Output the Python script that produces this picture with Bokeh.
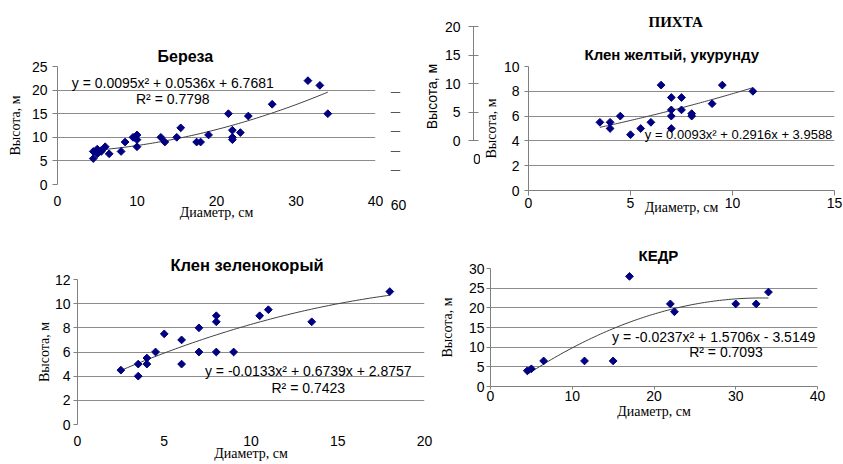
import numpy as np
from bokeh.plotting import figure
from bokeh.models import Range1d, FixedTicker, Label, Title
from bokeh.layouts import row, column
from bokeh.embed import file_html
from bokeh.resources import INLINE

SANS = "Liberation Sans"
SERIF = "Liberation Serif"
MARK = "#000080"
GRID = "#8c8c8c"
AXIS = "#808080"
TREND = "#404040"

# ---------------- data ----------------
birch_d = [4.5, 4.5, 5, 5, 5.5, 5.5, 6, 6.5, 8, 8.5, 9.5, 9.7, 10, 10, 10, 13, 13.5, 15, 15.5,
           17.5, 18, 19, 21.5, 22, 22, 22, 23, 24, 27, 31.5, 33, 34]
birch_h = [5.5, 7, 7.5, 6.5, 7, 7.2, 8, 6.5, 7, 9, 10, 10, 10.5, 9.5, 8, 10, 9, 10, 12,
           9, 9, 10.5, 15, 11.5, 10, 9.5, 11, 14.5, 17, 22, 21, 15]
birch_coef = [0.0095, 0.0536, 6.7681]

myel_d = [3.5, 4, 4, 4.5, 5, 5.5, 6, 6.5, 7, 7, 7, 7, 7.5, 7.5, 8, 8, 9, 9.5, 11]
myel_h = [5.5, 5.5, 5, 6, 4.5, 5, 5.5, 8.5, 7.5, 6.5, 6, 5, 7.5, 6.5, 6.2, 6, 7, 8.5, 8]
myel_coef = [0.0093, 0.2916, 3.9588]

mgrn_d = [2.5, 3.5, 3.5, 4, 4, 4.5, 5, 6, 6, 7, 7, 8, 8, 8, 9, 10.5, 11, 13.5, 18]
mgrn_h = [4.5, 5, 4, 5.5, 5, 6, 7.5, 7, 5, 8, 6, 9, 8.5, 6, 6, 9, 9.5, 8.5, 11]
mgrn_coef = [-0.0133, 0.6739, 2.8757]

cedar_d = [4.5, 5, 6.5, 11.5, 15, 17, 22, 22.5, 30, 32.5, 34]
cedar_h = [4, 4.5, 6.5, 6.5, 6.5, 28, 21, 19, 21, 21, 24]
cedar_coef = [-0.0237, 1.5706, -3.5149]

birch_xticks = [0, 10, 20, 30, 40]
birch_yticks = [0, 5, 10, 15, 20, 25]
myel_xticks = [0, 5, 10, 15]
myel_yticks = [0, 2, 4, 6, 8, 10]
mgrn_xticks = [0, 5, 10, 15, 20]
mgrn_yticks = [0, 2, 4, 6, 8, 10, 12]
cedar_xticks = [0, 10, 20, 30, 40]
cedar_yticks = [0, 5, 10, 15, 20, 25, 30]
fir_yticks = [0, 5, 10, 15, 20]
fir_xtick_label = "0"
stray_yticks = [5, 10, 15, 20, 25]
stray_xticks = [60]

XLAB = "Диаметр, см"
YLAB = "Высота, м"


def base(w, h, l, r, t, b, xr, yr):
    p = figure(width=w, height=h, x_range=Range1d(*xr), y_range=Range1d(*yr),
               min_border_left=l, min_border_right=r, min_border_top=t, min_border_bottom=b,
               output_backend="svg", toolbar_location=None, frame_align=False)
    p.outline_line_color = None
    p.background_fill_color = "white"
    p.border_fill_color = "white"
    p.xgrid.visible = False
    p.ygrid.grid_line_color = GRID
    p.ygrid.grid_line_width = 1
    for ax in (p.xaxis[0], p.yaxis[0]):
        ax.major_label_text_font = SANS
        ax.major_label_text_font_size = "14px"
        ax.major_label_text_color = "black"
        ax.axis_label_text_font = SERIF
        ax.axis_label_text_font_size = "14px"
        ax.axis_label_text_font_style = "normal"
        ax.axis_label_text_color = "black"
        ax.minor_tick_line_color = None
        ax.major_tick_in = 0
        ax.axis_line_color = AXIS
        ax.major_tick_line_color = AXIS
    return p


def style_title(t, offset, standoff, size="15px", font=SANS):
    t.text_font = font
    t.text_font_size = size
    t.text_font_style = "bold"
    t.align = "left"
    t.offset = offset
    t.standoff = standoff
    t.text_color = "black"


def draw(p, d, h, coef):
    xs = np.linspace(min(d), max(d), 80)
    p.line(xs, np.polyval(coef, xs), line_color=TREND, line_width=1)
    p.scatter(d, h, marker="square", angle=np.pi / 4, size=5.5,
              fill_color=MARK, line_color=MARK)


def label(p, x, y, text, align="center", size="14px"):
    p.add_layout(Label(x=x, y=y, text=text, text_font=SANS, text_font_size=size,
                       text_align=align, text_baseline="middle", text_color="black"))


# ---------------- Береза ----------------
pa = base(383, 228, 57, 8, 66, 44, (0, 40), (0, 25))
pa.title.text = "Береза"
style_title(pa.title, 100, 4, size="16px")
pa.xaxis.ticker = FixedTicker(ticks=birch_xticks)
pa.yaxis.ticker = FixedTicker(ticks=birch_yticks)
pa.xaxis.axis_line_color = None
pa.xaxis.major_tick_out = 0
pa.xaxis.major_label_standoff = 11
pa.xaxis.axis_label = XLAB
pa.xaxis.axis_label_standoff = -4
pa.yaxis.major_tick_out = 5
pa.yaxis.major_label_standoff = 5
pa.yaxis.axis_label = YLAB
pa.yaxis.axis_label_standoff = 6
draw(pa, birch_d, birch_h, birch_coef)
label(pa, 14.5, 21.5, "y = 0.0095x² + 0.0536x + 6.7681")
label(pa, 14.5, 18.2, "R² = 0.7798")

# ---------------- stray ticks (fragment of another chart) ----------------
pd_ = base(37, 228, 7, 20, 66, 44, (52, 62), (1.41, 31.67))
pd_.ygrid.ticker = FixedTicker(ticks=stray_yticks)
pd_.ygrid.grid_line_color = "#555555"
pd_.yaxis.visible = False
pd_.xaxis.ticker = FixedTicker(ticks=stray_xticks)
pd_.xaxis.axis_line_color = None
pd_.xaxis.major_tick_out = 0
pd_.xaxis.major_label_standoff = 15

# ---------------- ПИХТА fragment ----------------
# frame spans y 26..166 (0 at 140, 20 at 26); axis limited to 0..20 with bounds
pf = base(60, 228, 49, 0, 26, 62, (-1, 1), (-4.56, 20))
pf.ygrid.visible = False
pf.xaxis.visible = False
pf.yaxis.ticker = FixedTicker(ticks=fir_yticks)
pf.yaxis.bounds = (0, 20)
pf.yaxis.major_tick_in = 5
pf.yaxis.major_tick_out = 5
pf.yaxis.major_label_standoff = 8
pf.yaxis.axis_label = YLAB
pf.yaxis.axis_label_text_font = SANS
pf.yaxis.axis_label_standoff = 2
label(pf, 0, -3.16, fir_xtick_label)

# ---------------- Клен желтый ----------------
pb = base(363, 228, 47, 9, 66, 38, (0, 15), (0, 10))
pb.title.text = "ПИХТА"
style_title(pb.title, 120, 21, font=SERIF)
t2 = Title(text="Клен желтый, укурунду")
style_title(t2, 56, 7)
pb.add_layout(t2, "above")
pb.xaxis.ticker = FixedTicker(ticks=myel_xticks)
pb.yaxis.ticker = FixedTicker(ticks=myel_yticks)
pb.xaxis.major_tick_out = 5
pb.xaxis.major_label_standoff = 2
pb.xaxis.axis_label = XLAB
pb.xaxis.axis_label_standoff = -11
pb.yaxis.major_tick_out = 4
pb.yaxis.major_label_standoff = 5
pb.yaxis.axis_label = YLAB
pb.yaxis.axis_label_standoff = 2
draw(pb, myel_d, myel_h, myel_coef)
label(pb, 5.7, 4.5, "y = 0.0093x² + 0.2916x + 3.9588", align="left", size="13px")

# ---------------- Клен зеленокорый ----------------
pc = base(436, 236, 77, 12, 51, 40, (0, 20), (0, 12))
pc.title.text = "Клен зеленокорый"
style_title(pc.title, 93, 11, size="16.5px")
pc.xaxis.ticker = FixedTicker(ticks=mgrn_xticks)
pc.yaxis.ticker = FixedTicker(ticks=mgrn_yticks)
pc.xaxis.axis_line_color = None
pc.xaxis.major_tick_out = 0
pc.xaxis.major_label_standoff = 11
pc.xaxis.axis_label = XLAB
pc.xaxis.axis_label_standoff = -3
pc.yaxis.major_tick_out = 4
pc.yaxis.major_label_standoff = 3
pc.yaxis.axis_label = YLAB
pc.yaxis.axis_label_standoff = 0
draw(pc, mgrn_d, mgrn_h, mgrn_coef)
label(pc, 13.3, 4.4, "y = -0.0133x² + 0.6739x + 2.8757")
label(pc, 13.3, 3.05, "R² = 0.7423")

# ---------------- КЕДР ----------------
pk = base(407, 236, 50, 26, 40, 78, (0, 40), (0, 30))
pk.title.text = "КЕДР"
style_title(pk.title, 148, 10)
pk.xaxis.ticker = FixedTicker(ticks=cedar_xticks)
pk.yaxis.ticker = FixedTicker(ticks=cedar_yticks)
pk.xaxis.major_tick_out = 3
pk.xaxis.major_label_standoff = 1
pk.xaxis.axis_label = XLAB
pk.xaxis.axis_label_standoff = 0
pk.yaxis.major_tick_out = 4
pk.yaxis.major_label_standoff = 2
pk.yaxis.axis_label = YLAB
pk.yaxis.axis_label_standoff = 11
draw(pk, cedar_d, cedar_h, cedar_coef)
label(pk, 27.3, 12.5, "y = -0.0237x² + 1.5706x - 3.5149")
label(pk, 28.8, 8.7, "R² = 0.7093")

layout = column(row(pa, pd_, pf, pb), row(pc, pk))
open("out.html", "w").write(file_html(layout, INLINE))
